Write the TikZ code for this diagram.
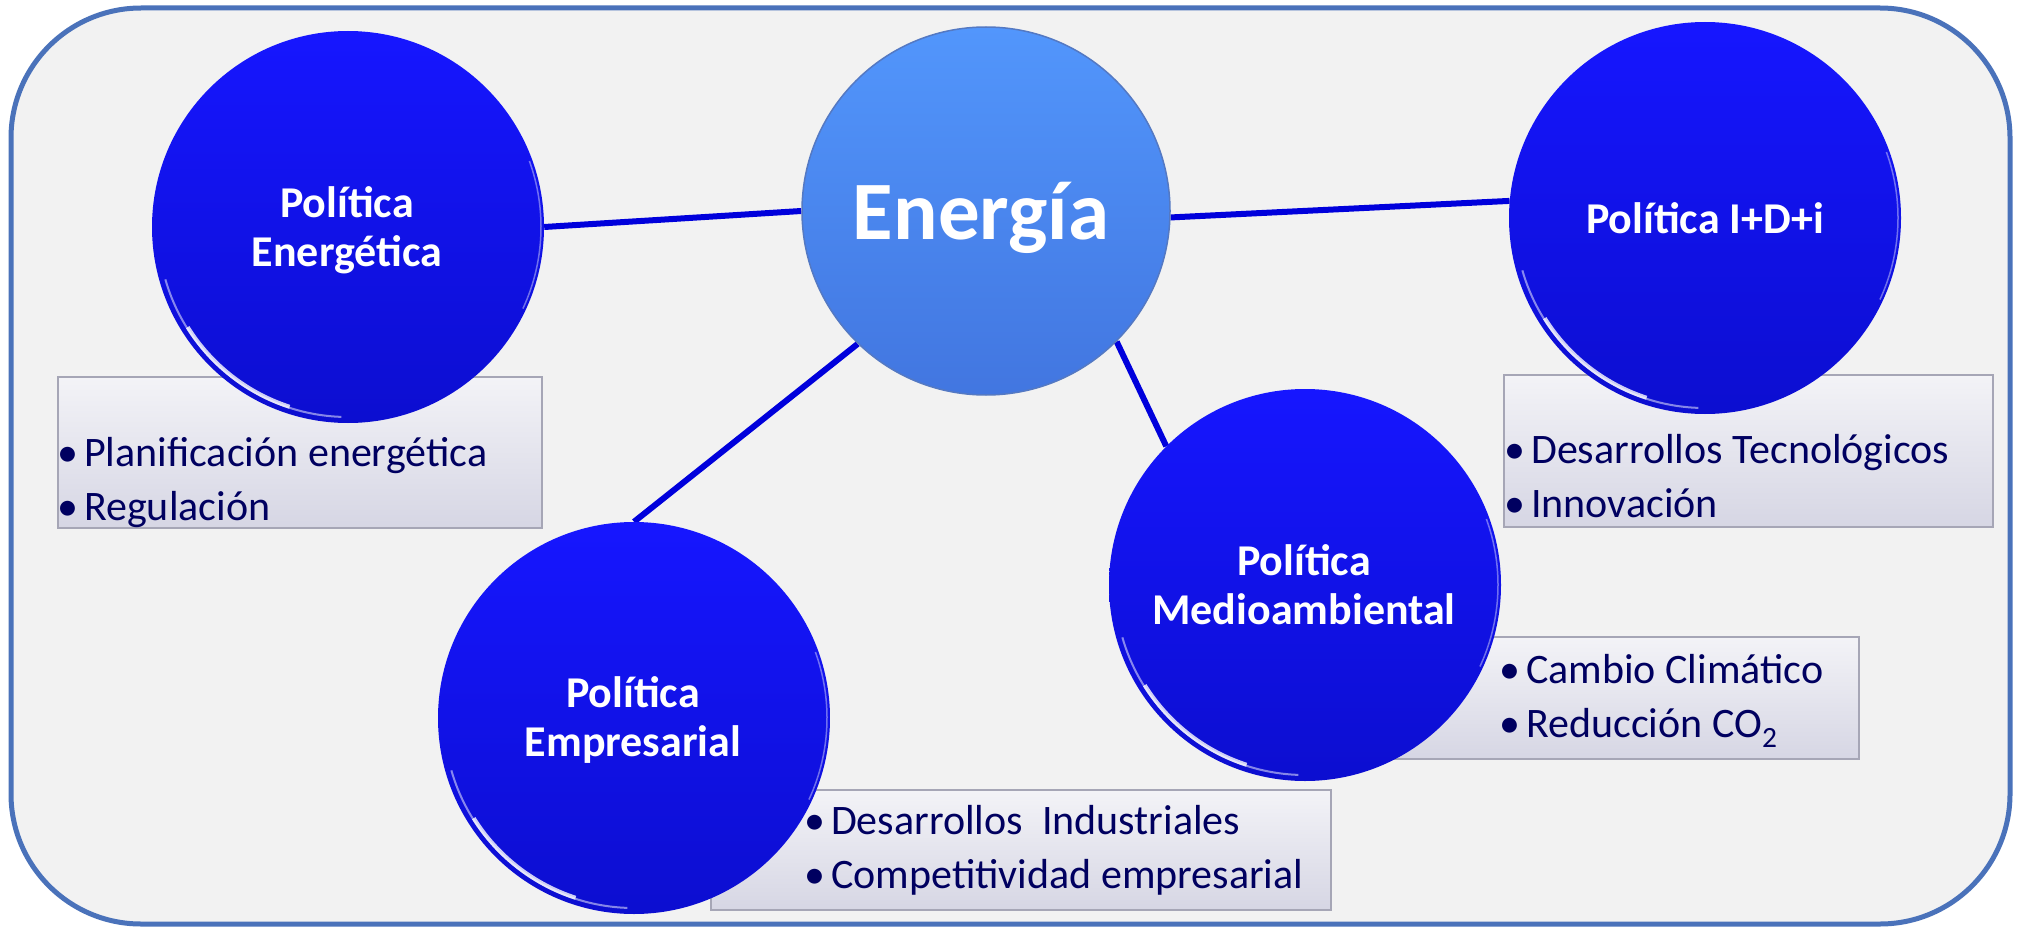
\documentclass[tikz,border=0pt]{standalone}
\usepackage{fontspec}
\setmainfont{Carlito}
\definecolor{frameblue}{RGB}{74,114,186}
\definecolor{bgfill}{RGB}{242,242,242}
\definecolor{darktop}{RGB}{22,22,255}
\definecolor{darkbot}{RGB}{12,14,208}
\definecolor{lighttop}{RGB}{82,150,252}
\definecolor{lightbot}{RGB}{66,118,224}
\definecolor{linkblue}{RGB}{0,0,220}
\definecolor{boxtop}{RGB}{243,243,247}
\definecolor{boxbot}{RGB}{214,214,228}
\definecolor{boxedge}{RGB}{166,166,182}
\definecolor{navy}{RGB}{0,0,96}
\pgfdeclarelayer{bg}
\pgfdeclarelayer{links}
\pgfsetlayers{bg,links,main}
\newcommand\myitem[1]{\hbox{\hbox to 0pt{\hss\textbullet\hss}\hskip16pt #1}}
\newcommand\mylist[2]{\vtop{\baselineskip=54pt\lineskiplimit=-100pt\lineskip=0pt\myitem{#1}\myitem{#2}}}
\newcommand\mytwo[2]{\vtop{\baselineskip=49pt\lineskiplimit=-100pt\lineskip=0pt\halign{\hfil##\hfil\cr#1\cr#2\cr}}}
\begin{document}
\begin{tikzpicture}[x=1pt,y=-1pt,
  policy/.style={circle, minimum size=392pt, inner sep=0pt, top color=darktop, bottom color=darkbot,
    path picture={
      \draw[white, line width=2pt, opacity=.5] (path picture bounding box.center) ++(196:190pt) arc[start angle=196, end angle=268, radius=190pt];
      \draw[white, line width=4pt, opacity=.8] (path picture bounding box.center) ++(212:189pt) arc[start angle=212, end angle=252, radius=189pt];
      \draw[white, line width=1.5pt, opacity=.4] (path picture bounding box.center) ++(-25:193pt) arc[start angle=-25, end angle=20, radius=193pt];
    }},
  core/.style={circle, minimum size=368pt, inner sep=0pt, top color=lighttop, bottom color=lightbot, draw=lightbot!70!gray, line width=1.5pt},
  listbox/.style={rectangle, inner sep=0pt, top color=boxtop, bottom color=boxbot, draw=boxedge, line width=2pt},
  listtext/.style={anchor=base west, inner sep=0pt, text=navy, font=\fontsize{42}{54}\selectfont},
  head/.style={anchor=base, inner sep=0pt, text=white, font=\bfseries\fontsize{44}{49}\selectfont},
  link/.style={draw=linkblue, line width=6pt}
]
\useasboundingbox (0,0) rectangle (2019,931);
\begin{pgfonlayer}{bg}
  \fill[white] (0,0) rectangle (2019,931);
  \draw[frameblue, line width=5pt, fill=bgfill, rounded corners=130pt] (11,8) rectangle (2010,924);
\end{pgfonlayer}

% list boxes
\node[listbox, minimum width=484pt, minimum height=151pt] (pebox) at (300,452.5) {};
\node[listbox, minimum width=489pt, minimum height=152pt] (idibox) at (1748.5,451) {};
\node[listbox, minimum width=609pt, minimum height=122pt] (mabox) at (1554.5,698) {};
\node[listbox, minimum width=620pt, minimum height=120pt] (empbox) at (1021,850) {};

% circles
\node[core] (en) at (986,211) {};
\node[policy] (pe) at (348,227) {};
\node[policy] (idi) at (1705,218) {};
\node[policy] (ma) at (1305,585) {};
\node[policy] (emp) at (634,718) {};

% connectors
\begin{pgfonlayer}{links}
  \draw[link] (en.180) -- (pe.0);
  \draw[link] (en.-2) -- (idi.175);
  \draw[link] (en.226) -- (emp.90);
  \draw[link] (en.315) -- (ma.135);
\end{pgfonlayer}

% headings
\node[anchor=base, inner sep=0pt, text=white, font=\bfseries\fontsize{83}{90}\selectfont] (entext) at (981,239) {Energía};
\node[head] (pehead) at (347,217) {\mytwo{Política}{Energética}};
\node[head] (idihead) at (1705,233) {Política I+D+i};
\node[head] (mahead) at (1304,575) {\mytwo{Política}{Medioambiental}};
\node[head] (emphead) at (633,707) {\mytwo{Política}{Empresarial}};

% lists
\node[listtext] (pelist) at (68,466) {\mylist{Planificación energética}{Regulación}};
\node[listtext] (idilist) at (1515,463) {\mylist{Desarrollos Tecnológicos}{Innovación}};
\node[listtext] (malist) at (1510,683) {\mylist{Cambio Climático}{Reducción CO\textsubscript{2}}};
\node[listtext] (emplist) at (815,834) {\mylist{Desarrollos~ Industriales}{Competitividad empresarial}};
\end{tikzpicture}
\end{document}
